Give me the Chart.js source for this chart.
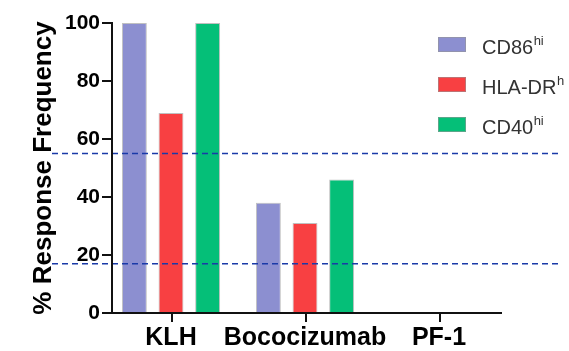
<!DOCTYPE html>
<html>
<head>
<meta charset="utf-8">
<script src="https://cdn.jsdelivr.net/npm/chart.js@4.4.1/dist/chart.umd.min.js"></script>
<style>
  html, body { margin: 0; padding: 0; background: #fff; }
  #wrap { width: 569px; height: 351px; }
</style>
</head>
<body>
<div id="wrap"><canvas id="response_chart"></canvas></div>
<script>
const categories = ['KLH', 'Bococizumab', 'PF-1'];
const cd86Values = [100, 38, 0];
const hladrValues = [69, 31, 0];
const cd40Values = [100, 46, 0];
const seriesNames = ['CD86', 'HLA-DR', 'CD40'];
const seriesSup = ['hi', 'h', 'hi'];
const thresholdValues = [55, 17];
const yTickValues = [0, 20, 40, 60, 80, 100];

const colors = ['#8c8fd0', '#f84042', '#05bf78'];

// axis lines and tick marks (y axis sits a few px right of where the x axis starts)
const axesPlugin = {
  id: 'prismAxes',
  afterDraw(chart) {
    const ctx = chart.ctx;
    const x = chart.scales.x;
    const y = chart.scales.y;
    const area = chart.chartArea;
    const x0 = area.left + 7;
    const y0 = y.getPixelForValue(0);
    const yTop = y.getPixelForValue(100);
    ctx.save();
    ctx.fillStyle = '#111';
    // y axis
    ctx.fillRect(x0, yTop - 1, 2, y0 - yTop + 2);
    yTickValues.forEach(v => {
      ctx.fillRect(x0 - 9, Math.round(y.getPixelForValue(v)) - 1, 9, 2);
    });
    // x axis
    ctx.fillRect(area.left - 1, y0 - 1, area.right - area.left - 3, 2);
    categories.forEach((c, i) => {
      ctx.fillRect(Math.round(x.getPixelForValue(i)), y0, 2, 9);
    });
    ctx.restore();
  }
};

const thresholdPlugin = {
  id: 'thresholds',
  afterDatasetsDraw(chart) {
    const ctx = chart.ctx;
    const y = chart.scales.y;
    ctx.save();
    ctx.strokeStyle = '#1a3aa8';
    ctx.lineWidth = 1.5;
    ctx.setLineDash([6, 4]);
    thresholdValues.forEach(v => {
      const py = y.getPixelForValue(v);
      ctx.beginPath();
      ctx.moveTo(52, py);
      ctx.lineTo(560, py);
      ctx.stroke();
    });
    ctx.restore();
  }
};

const legendPlugin = {
  id: 'supLegend',
  afterDraw(chart) {
    const ctx = chart.ctx;
    ctx.save();
    chart.data.datasets.forEach((ds, i) => {
      const top = 37 + i * 40;
      ctx.fillStyle = ds.backgroundColor;
      ctx.fillRect(438, top, 28, 15);
      ctx.strokeStyle = 'rgba(150,150,150,0.6)';
      ctx.lineWidth = 1;
      ctx.strokeRect(438.5, top + 0.5, 27, 14);
      ctx.fillStyle = '#333';
      ctx.textBaseline = 'alphabetic';
      ctx.font = '20px "Liberation Sans", Arial, sans-serif';
      const base = top + 17;
      ctx.fillText(seriesNames[i], 482, base);
      const w = ctx.measureText(seriesNames[i]).width;
      ctx.font = '13px "Liberation Sans", Arial, sans-serif';
      ctx.fillText(seriesSup[i], 482 + w + 0.5, base - 9);
    });
    ctx.restore();
  }
};

new Chart(
  document.getElementById('response_chart'),
  {
    type: 'bar',
    plugins: [thresholdPlugin, axesPlugin, legendPlugin],
    data: {
      labels: categories,
      datasets: [
        { label: 'CD86hi', data: cd86Values, backgroundColor: colors[0] },
        { label: 'HLA-DRh', data: hladrValues, backgroundColor: colors[1] },
        { label: 'CD40hi', data: cd40Values, backgroundColor: colors[2] }
      ].map(ds => Object.assign(ds, {
        borderColor: 'rgba(150,150,150,0.6)',
        borderWidth: 1,
        categoryPercentage: 0.82,
        barPercentage: 0.68
      }))
    },
    options: {
      responsive: true,
      maintainAspectRatio: false,
      animation: false,
      layout: { padding: { top: 23, right: 63, left: 0, bottom: 0 } },
      plugins: {
        legend: { display: false },
        tooltip: { enabled: false }
      },
      scales: {
        x: {
          afterFit: s => { s.height = 38; },
          border: { display: false },
          grid: { display: false, drawTicks: false },
          ticks: {
            color: '#000',
            padding: 10,
            maxRotation: 0,
            minRotation: 0,
            autoSkip: false,
            font: { family: '"Liberation Sans", Arial, sans-serif', size: 25, weight: 'bold' }
          }
        },
        y: {
          min: 0,
          max: 100,
          afterFit: s => { s.width = 104; },
          afterBuildTicks: s => { s.ticks = yTickValues.map(v => ({ value: v })); },
          border: { display: false },
          grid: { display: false, drawTicks: false },
          ticks: {
            color: '#000',
            padding: 4,
            font: { family: '"Liberation Sans", Arial, sans-serif', size: 21, weight: 'bold' }
          },
          title: {
            display: true,
            text: '% Response Frequency',
            color: '#000',
            padding: { top: 28, bottom: 0 },
            font: { family: '"Liberation Sans", Arial, sans-serif', size: 26, weight: 'bold' }
          }
        }
      }
    }
  }
);
</script>
</body>
</html>
